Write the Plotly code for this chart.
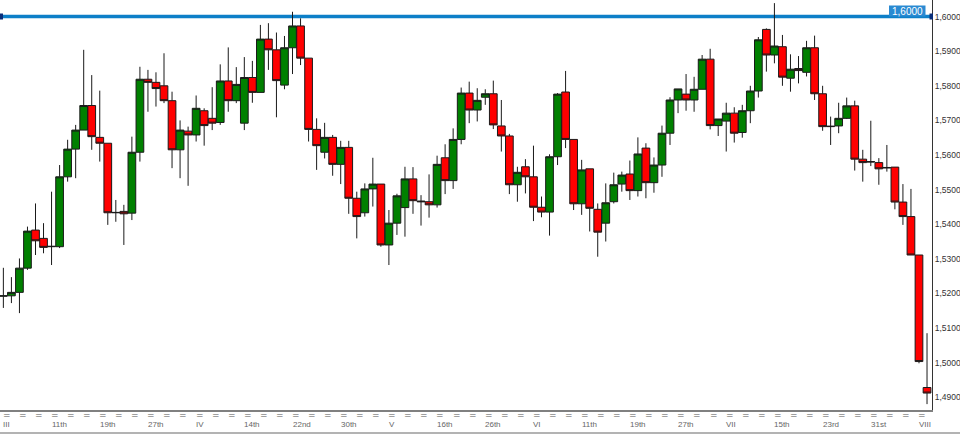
import plotly.graph_objects as go

# ---------------- data ----------------
opens = [1.5192, 1.5193, 1.5203, 1.5273, 1.5383, 1.5359, 1.5335, 1.5335, 1.5537, 1.5617,
         1.5672, 1.5743, 1.5651, 1.5634, 1.5433, 1.5437, 1.5432, 1.5608, 1.5819, 1.5810,
         1.5800, 1.5757, 1.5615, 1.5669, 1.5658, 1.5728, 1.5706, 1.5694, 1.5814, 1.5757,
         1.5692, 1.5824, 1.5781, 1.5935, 1.5904, 1.5802, 1.5910, 1.5973, 1.5880, 1.5674,
         1.5608, 1.5651, 1.5573, 1.5622, 1.5475, 1.5433, 1.5502, 1.5516, 1.5340, 1.5403,
         1.5448, 1.5531, 1.5467, 1.5465, 1.5456, 1.5592, 1.5526, 1.5645, 1.5779, 1.5730,
         1.5767, 1.5777, 1.5684, 1.5655, 1.5514, 1.5566, 1.5537, 1.5449, 1.5435, 1.5595,
         1.5782, 1.5645, 1.5459, 1.5560, 1.5443, 1.5403, 1.5465, 1.5516, 1.5545, 1.5497,
         1.5620, 1.5520, 1.5571, 1.5663, 1.5759, 1.5776, 1.5759, 1.5790, 1.5877, 1.5685,
         1.5698, 1.5721, 1.5665, 1.5728, 1.5785, 1.5963, 1.5889, 1.5913, 1.5822, 1.5850,
         1.5839, 1.5910, 1.5777, 1.5682, 1.5684, 1.5706, 1.5742, 1.5588, 1.5581, 1.5578,
         1.5564, 1.5565, 1.5464, 1.5422, 1.5311, 1.4928]
highs = [1.5274, 1.5247, 1.5301, 1.5393, 1.5460, 1.5403, 1.5494, 1.5571, 1.5644, 1.5687,
         1.5904, 1.5831, 1.5786, 1.5634, 1.5470, 1.5456, 1.5653, 1.5855, 1.5846, 1.5839,
         1.5894, 1.5783, 1.5700, 1.5682, 1.5772, 1.5735, 1.5796, 1.5862, 1.5911, 1.5854,
         1.5883, 1.5872, 1.5976, 1.5981, 1.5954, 1.5944, 1.6014, 1.5995, 1.5880, 1.5706,
         1.5693, 1.5658, 1.5641, 1.5641, 1.5494, 1.5518, 1.5592, 1.5516, 1.5441, 1.5488,
         1.5566, 1.5565, 1.5484, 1.5544, 1.5598, 1.5631, 1.5677, 1.5795, 1.5812, 1.5793,
         1.5790, 1.5815, 1.5759, 1.5661, 1.5566, 1.5588, 1.5627, 1.5480, 1.5602, 1.5779,
         1.5843, 1.5645, 1.5586, 1.5560, 1.5460, 1.5518, 1.5549, 1.5552, 1.5584, 1.5651,
         1.5634, 1.5593, 1.5685, 1.5767, 1.5791, 1.5834, 1.5826, 1.5889, 1.5907, 1.5704,
         1.5751, 1.5738, 1.5745, 1.5800, 1.5941, 1.5966, 1.6039, 1.5947, 1.5891, 1.5886,
         1.5930, 1.5945, 1.5800, 1.5711, 1.5751, 1.5766, 1.5757, 1.5615, 1.5699, 1.5591,
         1.5629, 1.5565, 1.5516, 1.5502, 1.5311, 1.5085]
lows = [1.5158, 1.5172, 1.5143, 1.5268, 1.5311, 1.5316, 1.5282, 1.5331, 1.5523, 1.5533,
        1.5672, 1.5615, 1.5581, 1.5398, 1.5407, 1.5340, 1.5412, 1.5581, 1.5725, 1.5740,
        1.5750, 1.5562, 1.5533, 1.5511, 1.5639, 1.5627, 1.5672, 1.5687, 1.5725, 1.5750,
        1.5672, 1.5751, 1.5781, 1.5846, 1.5709, 1.5790, 1.5834, 1.5860, 1.5639, 1.5557,
        1.5590, 1.5540, 1.5516, 1.5430, 1.5359, 1.5422, 1.5451, 1.5335, 1.5282, 1.5369,
        1.5364, 1.5430, 1.5396, 1.5419, 1.5448, 1.5487, 1.5502, 1.5631, 1.5692, 1.5697,
        1.5745, 1.5675, 1.5610, 1.5487, 1.5465, 1.5489, 1.5409, 1.5420, 1.5367, 1.5571,
        1.5620, 1.5441, 1.5427, 1.5379, 1.5306, 1.5350, 1.5460, 1.5494, 1.5470, 1.5480,
        1.5475, 1.5491, 1.5537, 1.5629, 1.5721, 1.5728, 1.5725, 1.5790, 1.5674, 1.5655,
        1.5610, 1.5636, 1.5650, 1.5692, 1.5766, 1.5841, 1.5865, 1.5800, 1.5783, 1.5807,
        1.5827, 1.5759, 1.5670, 1.5629, 1.5663, 1.5704, 1.5555, 1.5523, 1.5568, 1.5514,
        1.5552, 1.5443, 1.5398, 1.5311, 1.4998, 1.4880]
closes = [1.5193, 1.5203, 1.5273, 1.5380, 1.5352, 1.5333, 1.5336, 1.5537, 1.5617, 1.5672,
          1.5743, 1.5653, 1.5634, 1.5433, 1.5434, 1.5430, 1.5608, 1.5819, 1.5810, 1.5792,
          1.5757, 1.5615, 1.5672, 1.5658, 1.5735, 1.5685, 1.5692, 1.5814, 1.5757, 1.5804,
          1.5824, 1.5781, 1.5935, 1.5904, 1.5815, 1.5910, 1.5973, 1.5880, 1.5674, 1.5627,
          1.5651, 1.5573, 1.5622, 1.5475, 1.5422, 1.5502, 1.5516, 1.5340, 1.5403, 1.5482,
          1.5531, 1.5468, 1.5465, 1.5456, 1.5573, 1.5526, 1.5645, 1.5779, 1.5730, 1.5758,
          1.5777, 1.5687, 1.5655, 1.5514, 1.5550, 1.5537, 1.5449, 1.5435, 1.5595, 1.5776,
          1.5645, 1.5459, 1.5557, 1.5446, 1.5377, 1.5462, 1.5514, 1.5542, 1.5497, 1.5603,
          1.5520, 1.5571, 1.5663, 1.5759, 1.5791, 1.5759, 1.5790, 1.5877, 1.5685, 1.5704,
          1.5721, 1.5663, 1.5728, 1.5785, 1.5933, 1.5889, 1.5915, 1.5825, 1.5848, 1.5844,
          1.5910, 1.5777, 1.5682, 1.5683, 1.5706, 1.5742, 1.5588, 1.5578, 1.5580, 1.5560,
          1.5563, 1.5464, 1.5422, 1.5311, 1.5003, 1.4912]

date_labels = ["III", "11th", "19th", "27th", "IV", "14th", "22nd", "30th", "V", "16th",
               "26th", "VI", "11th", "19th", "27th", "VII", "15th", "23rd", "31st", "VIII"]
label_step = 6          # one date label every 6 bars
mark_step = 2           # one "=" separator mark every 2 bars
price_ticks = [1.49, 1.50, 1.51, 1.52, 1.53, 1.54, 1.55, 1.56, 1.57, 1.58, 1.59, 1.60]
level_price = 1.6000
level_text = "1,6000"

# ---------------- figure ----------------
n = len(opens)
xs = list(range(n))

W, H = 960, 434
PL, PR, PT, PB = 0, 28, 0, 24
plot_w = W - PL - PR
plot_h = H - PT - PB
x_range = [-0.42, n - 1 + 0.62]
y_range = [1.4863, 1.6048]

def py(pix):
    """pixel row (from top of plot) -> price"""
    return y_range[1] - pix / plot_h * (y_range[1] - y_range[0])

fig = go.Figure()

fig.add_trace(go.Candlestick(
    x=xs, open=opens, high=highs, low=lows, close=closes,
    increasing=dict(fillcolor="#008000", line=dict(color="#1a1a1a", width=1)),
    decreasing=dict(fillcolor="#ff0000", line=dict(color="#1a1a1a", width=1)),
    whiskerwidth=0,
    hoverinfo="skip",
    showlegend=False,
))

shapes = []
# horizontal level line
shapes.append(dict(type="line", xref="paper", yref="y", x0=0, x1=1,
                   y0=level_price, y1=level_price,
                   line=dict(color="#0d7fc8", width=3.5), layer="below"))
# end handles
for xa, xb in [(0, 3 / plot_w), (1 - 2.5 / plot_w, 1 + 1 / plot_w)]:
    shapes.append(dict(type="rect", xref="paper", yref="y", x0=xa, x1=xb,
                       y0=py(19.5), y1=py(13.5), fillcolor="#0b2f7a",
                       line=dict(width=0), layer="above"))
# price label box
shapes.append(dict(type="rect", xref="paper", yref="y",
                   x0=889 / plot_w, x1=925.5 / plot_w,
                   y0=level_price, y1=py(5.5),
                   fillcolor="#2a8ad2", line=dict(width=0), layer="above"))
# bottom border of the time-axis strip
shapes.append(dict(type="line", xref="paper", yref="paper",
                   x0=0, x1=W / plot_w, y0=-(433 - plot_h) / plot_h, y1=-(433 - plot_h) / plot_h,
                   line=dict(color="#9a9a9a", width=1.5)))

annotations = []
annotations.append(dict(x=907 / plot_w, xref="paper", y=py(11.2), yref="y",
                        text=level_text, showarrow=False, xanchor="center", yanchor="middle",
                        font=dict(family="Liberation Sans", size=10, color="white")))
# "=" separator marks
for k in range(0, n, mark_step):
    annotations.append(dict(x=k + 0.42, xref="x", y=-(415 - plot_h) / plot_h, yref="paper",
                            text="=", showarrow=False, xanchor="center", yanchor="middle",
                            font=dict(family="DejaVu Sans", size=9, color="#555555")))
# date labels
for j, lab in enumerate(date_labels):
    annotations.append(dict(x=j * label_step - 0.25, xref="x", y=-(424 - plot_h) / plot_h,
                            yref="paper", text=lab, showarrow=False,
                            xanchor="left", yanchor="middle",
                            font=dict(family="Liberation Sans", size=8, color="#666666")))

fig.update_layout(
    width=W, height=H,
    margin=dict(l=PL, r=PR, t=PT, b=PB, pad=0),
    paper_bgcolor="white", plot_bgcolor="white",
    separators=",.",
    boxgap=0.04,
    boxgroupgap=0,
    shapes=shapes,
    annotations=annotations,
    showlegend=False,
    xaxis=dict(range=x_range, showgrid=False, zeroline=False, showticklabels=False,
               ticks="", showline=True, linecolor="#808080", linewidth=1.5,
               rangeslider=dict(visible=False), fixedrange=True, automargin=False),
    yaxis=dict(range=y_range, side="right", showgrid=False, zeroline=False,
               tickvals=price_ticks, tickformat=".4f", ticks="",
               showline=True, linecolor="#333333", linewidth=1,
               tickfont=dict(family="Liberation Sans", size=8.5, color="#333333"),
               fixedrange=True, automargin=False),
)

fig.write_html(
    "out.html",
    config={"displayModeBar": False},
    post_script="document.body.style.margin='0px';document.body.style.overflow='hidden';",
)
